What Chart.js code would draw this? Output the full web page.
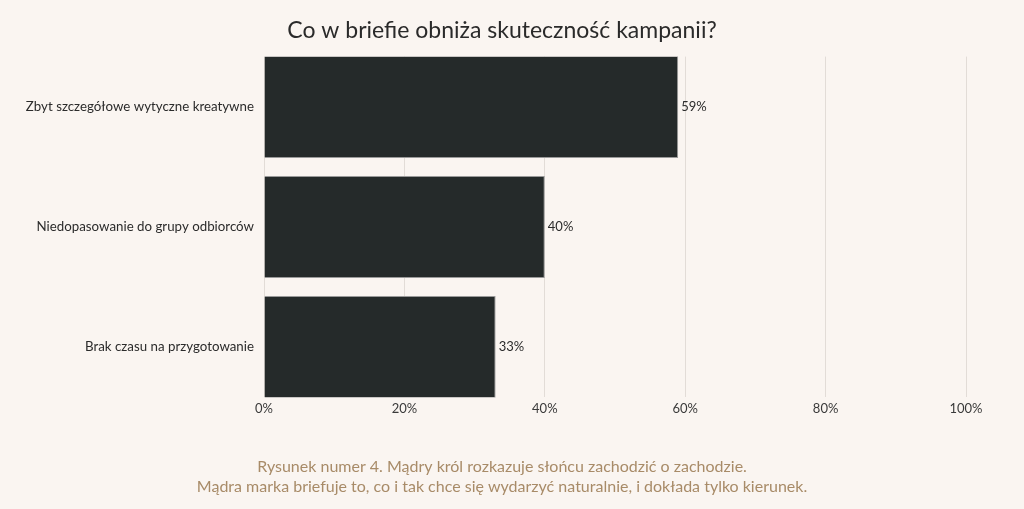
<!DOCTYPE html>
<html>
<head>
<meta charset="utf-8">
<script src="https://cdn.jsdelivr.net/npm/chart.js@4"></script>
<style>
  html, body { margin: 0; padding: 0; background: #faf5f1; }
  #wrap { width: 1024px; height: 509px; }
</style>
</head>
<body>
<div id="wrap"><canvas id="briefChart"></canvas></div>
<script>
// Dane wykresu
const kategorie = [
  "Zbyt szczegółowe wytyczne kreatywne",
  "Niedopasowanie do grupy odbiorców",
  "Brak czasu na przygotowanie"
];
const wartosci = [59, 40, 33];
const podpis = [
  "Rysunek numer 4. Mądry król rozkazuje słońcu zachodzić o zachodzie.",
  "Mądra marka briefuje to, co i tak chce się wydarzyć naturalnie, i dokłada tylko kierunek."
];

// Etykiety z wartością po prawej stronie słupka
const etykietyPlugin = {
  id: "etykiety",
  afterDatasetsDraw(chart) {
    const ctx = chart.ctx;
    const meta = chart.getDatasetMeta(0);
    ctx.save();
    ctx.font = "13px Lato";
    ctx.fillStyle = "#2b2b2b";
    ctx.textBaseline = "middle";
    ctx.textAlign = "left";
    meta.data.forEach((bar, i) => {
      ctx.fillText(wartosci[i] + "%", bar.x + 3, bar.y);
    });
    ctx.restore();
  }
};

const ctx = document.getElementById("briefChart").getContext("2d");
new Chart(ctx, {
  type: "bar",
  data: {
    datasets: [{
      data: wartosci.map((v, i) => ({ x: v, y: i })),
      backgroundColor: "#252a2a",
      borderColor: "#9a9a9a",
      borderWidth: 1,
      barPercentage: 1,
      categoryPercentage: 0.85
    }]
  },
  options: {
    indexAxis: "y",
    responsive: true,
    maintainAspectRatio: false,
    animation: false,
    layout: { padding: { left: 12, right: 32, top: 7, bottom: 4 } },
    plugins: {
      legend: { display: false },
      tooltip: { enabled: false },
      title: {
        display: true,
        text: "Co w briefie obniża skuteczność kampanii?",
        color: "#2a2a2a",
        font: { family: "Lato", size: 23, weight: "normal" },
        padding: { top: 10, bottom: 12 }
      },
      subtitle: {
        display: true,
        position: "bottom",
        text: podpis,
        color: "#a88b68",
        font: { family: "Lato", size: 16, weight: "normal", lineHeight: 1.25 },
        padding: { top: 36, bottom: 8 }
      }
    },
    scales: {
      x: {
        min: 0,
        max: 100,
        ticks: {
          stepSize: 20,
          color: "#3a3a3a",
          font: { family: "Lato", size: 13 },
          callback: v => v + "%",
          padding: 4
        },
        grid: { color: "#e2dcd7", drawTicks: false },
        border: { display: false }
      },
      y: {
        type: "linear",
        reverse: true,
        offset: false,
        bounds: "data",
        min: -0.42,
        max: 2.42,
        afterFit: scale => { scale.width = 252; },
        // jedna etykieta na każdą kategorię
        afterBuildTicks: scale => {
          scale.ticks = kategorie.map((k, i) => ({ value: i }));
        },
        ticks: {
          autoSkip: false,
          color: "#2b2b2b",
          font: { family: "Lato", size: 13.3 },
          padding: 10,
          callback: v => kategorie[v]
        },
        grid: { display: false, drawTicks: false },
        border: { display: false }
      },
      // pusty margines po prawej, aby tytuł był wyśrodkowany jak w oryginale
      prawa: {
        type: "linear",
        position: "right",
        afterFit: scale => { scale.width = 26; },
        ticks: { display: false },
        grid: { display: false },
        border: { display: false }
      }
    }
  },
  plugins: [etykietyPlugin]
});
</script>
</body>
</html>
